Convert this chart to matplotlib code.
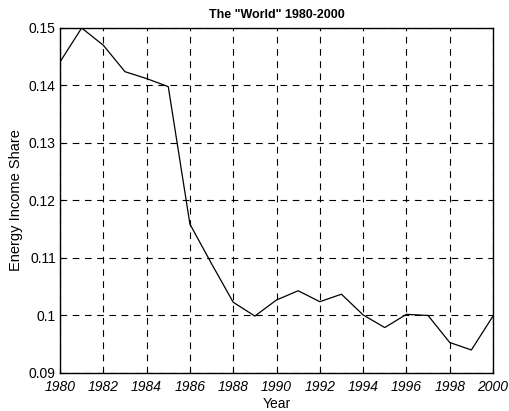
import matplotlib
matplotlib.use("Agg")
import matplotlib.pyplot as plt

years = list(range(1980, 2001))
share = [0.1441, 0.1500, 0.1470, 0.1424, 0.1412, 0.1398, 0.1159, 0.1090, 0.1023,
         0.0999, 0.1027, 0.1043, 0.1024, 0.1037, 0.1001, 0.0979, 0.1002, 0.1000,
         0.0953, 0.0940, 0.0999]
xticks = list(range(1980, 2001, 2))
yticks = [0.09, 0.1, 0.11, 0.12, 0.13, 0.14, 0.15]
yticklabels = ["0.09", "0.1", "0.11", "0.12", "0.13", "0.14", "0.15"]

plt.rcParams['font.family'] = ['Liberation Sans', 'DejaVu Sans']
fig = plt.figure(figsize=(5.09, 4.11), dpi=100)
ax = fig.add_axes([0.1179, 0.0925, 0.8507, 0.8394])
ax.plot(years, share, color='black', linewidth=0.9)
ax.set_xlim(1980, 2000)
ax.set_ylim(0.09, 0.15)
ax.set_xticks(xticks)
ax.set_xticklabels([str(x) for x in xticks], fontsize=10, style='italic')
ax.set_yticks(yticks)
ax.set_yticklabels(yticklabels, fontsize=10)
ax.grid(True, color='black', linestyle=(0, (6, 5)), linewidth=0.8)
ax.tick_params(direction='in', length=3)
ax.tick_params(axis='x', pad=5)
ax.tick_params(axis='y', pad=3)
for s in ax.spines.values():
    s.set_linewidth(1.0)
ax.set_xlabel('Year', fontsize=10, labelpad=2)
ax.set_ylabel('Energy Income Share', fontsize=10.5, labelpad=4)
ax.set_title('The "World" 1980-2000', fontsize=9, fontweight='bold', pad=7)
fig.savefig('out.png', dpi=100)
